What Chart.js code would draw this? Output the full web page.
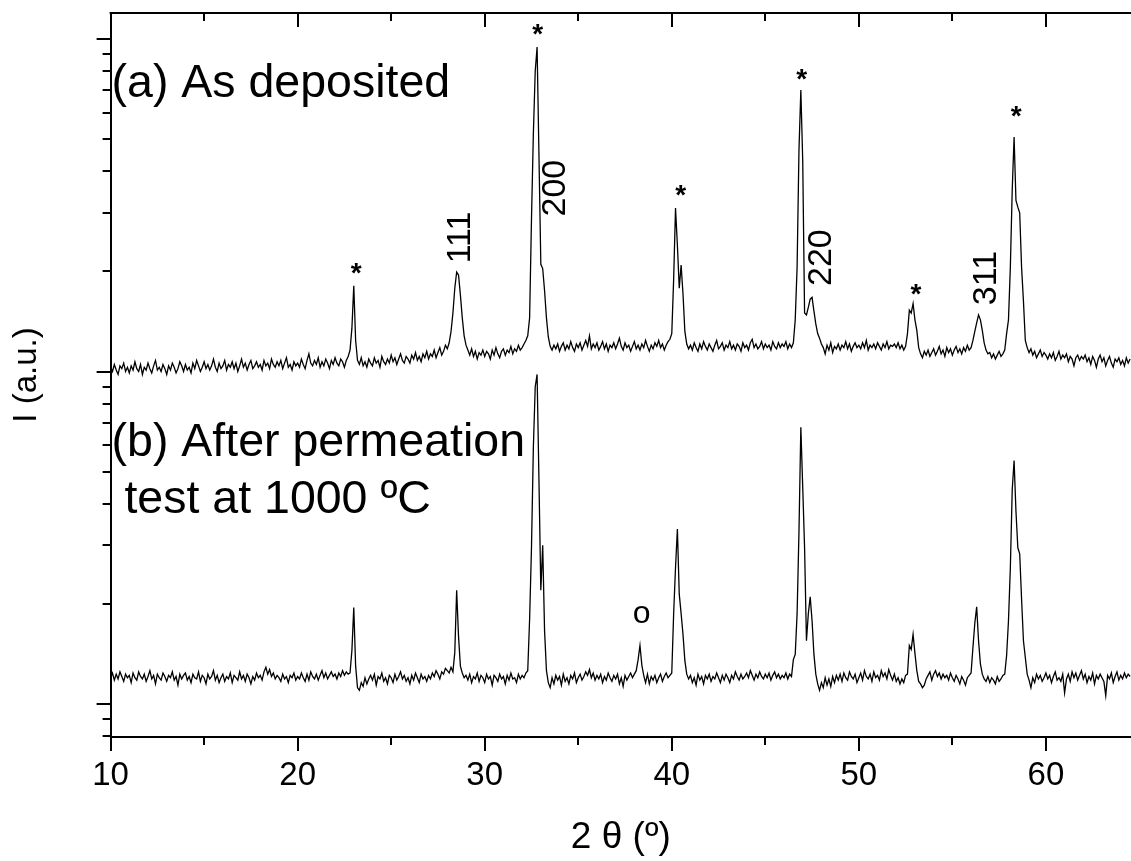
<!DOCTYPE html>
<html><head><meta charset="utf-8">
<script src="https://cdn.jsdelivr.net/npm/chart.js@4"></script>
<style>html,body{margin:0;padding:0;background:#fff}#wrap{width:1131px;height:861px;position:relative}</style>
</head><body><div id="wrap"><canvas id="c"></canvas></div>
<script>
// scan grid (2θ, degrees)
const X_START = 10.0;
const X_STEP = 0.1;
const X_MIN = 10;
const X_MAX = 64.55;
const Y_MIN = 7.96;
const Y_MAX = 1197;

// (a) As deposited — intensity, one row per degree (10.0 ... 64.5)
const asDeposited = [
103,100,105,101,98,104,102,106,100,103,
99,104,101,107,102,100,105,98,103,101,
106,102,99,104,108,101,103,100,105,102,
98,104,101,106,103,99,102,107,104,100,
105,101,103,99,106,102,108,104,100,103,
107,102,105,101,104,109,103,100,106,102,
104,108,101,105,103,107,102,106,100,104,
109,103,106,101,105,108,102,104,107,103,
105,101,108,104,106,102,109,105,103,107,
104,108,102,106,110,103,105,101,107,104,
106,103,109,105,102,108,113,106,104,108,
105,110,103,107,104,109,106,102,108,105,
110,106,104,109,107,103,108,111,116,135,
181,124,108,105,110,104,107,103,109,106,
104,110,106,108,103,111,107,105,109,106,
112,107,110,105,109,113,108,106,111,109,
106,112,109,114,108,111,107,113,110,115,
109,113,111,116,110,114,118,112,115,120,
117,122,132,150,178,199,195,170,145,128,
120,116,112,117,111,115,109,114,112,116,
111,115,113,109,116,112,118,113,110,115,
117,112,116,114,119,113,117,115,120,116,
118,121,124,128,145,287,518,800,946,447,
210,204,175,145,127,119,116,120,117,121,
115,119,122,116,120,117,123,118,115,121,
118,122,116,120,124,119,128,117,121,118,
122,116,119,123,117,121,115,120,118,122,
117,121,126,119,116,122,118,120,115,119,
123,117,120,116,121,118,124,119,115,120,
117,122,119,124,118,121,116,120,123,125,
130,189,310,240,178,209,171,132,121,117,
120,116,122,118,115,121,117,123,119,116,
121,118,115,120,124,117,119,122,116,120,
118,123,117,120,116,121,119,115,122,118,
120,116,122,125,118,121,117,119,123,117,
121,118,120,116,123,119,117,122,118,121,
119,123,117,121,118,122,143,206,464,702,
432,150,148,156,165,167,152,139,130,126,
121,118,113,120,116,122,114,119,117,121,
116,120,118,123,117,121,115,119,122,118,
120,117,122,118,124,116,120,118,121,117,
122,119,116,121,118,123,117,120,119,121,
118,122,117,120,116,119,130,153,150,160,
143,133,118,113,110,115,112,116,111,114,
117,112,115,119,113,116,111,118,114,117,
112,116,119,114,117,113,118,115,120,116,
118,124,132,140,148,143,133,122,116,113,
114,110,113,109,112,115,111,113,116,130,
143,206,351,507,327,312,300,206,163,124,
118,114,117,112,115,110,113,116,111,114,
112,109,113,110,114,108,111,115,109,112,
110,113,107,111,109,104,110,112,108,111,
109,112,107,110,105,111,108,103,109,112,
107,110,104,108,111,106,103,109,107,110,
105,108,104,110,106,109
];

// (b) After permeation test at 1000 ºC
const afterPermeation = [
12.0,12.4,11.8,12.3,11.9,12.5,12.1,11.7,12.3,12.0,
12.2,11.6,12.4,12.0,11.8,12.5,12.1,11.9,12.3,11.7,
12.1,12.6,11.9,12.2,11.5,12.3,12.0,11.8,12.4,12.1,
11.7,12.2,12.0,12.5,11.8,12.1,11.4,12.3,11.9,12.2,
12.4,11.8,12.1,11.6,12.3,12.0,11.9,12.5,11.7,12.2,
12.0,11.5,12.3,11.9,12.1,12.6,11.8,12.2,11.6,12.0,
12.3,11.7,12.1,11.9,12.4,11.6,12.2,12.0,11.8,12.5,
11.9,12.2,11.7,12.3,12.0,11.5,12.1,11.8,12.4,12.0,
12.2,11.8,12.5,12.9,12.3,12.7,12.1,12.4,11.9,12.2,
12.0,11.7,12.3,11.9,12.1,11.6,12.2,12.0,12.4,11.8,
12.1,11.9,12.4,12.0,11.7,12.3,11.8,12.5,12.1,11.9,
12.3,11.8,12.2,12.6,12.0,12.4,11.9,12.2,12.5,12.1,
12.3,11.9,12.4,12.1,12.6,12.2,12.5,12.3,12.4,14.5,
19.5,13.0,11.2,11.0,11.6,11.3,12.0,11.5,11.9,12.2,
11.8,12.3,11.4,12.1,11.9,12.4,11.7,12.0,11.5,12.2,
12.0,11.6,12.3,11.8,12.1,12.5,11.9,12.2,11.7,12.0,
11.5,12.2,11.8,12.4,12.0,11.6,12.3,11.9,12.1,11.7,
12.2,11.9,12.4,12.1,12.6,12.3,11.9,12.5,12.3,12.8,
12.6,12.4,12.9,12.5,14.3,22.0,16.0,13.0,12.4,12.0,
12.2,11.8,12.3,11.6,12.1,11.9,12.4,11.7,12.2,12.0,
11.6,12.3,11.9,12.1,11.4,12.2,12.0,11.7,12.3,11.9,
12.1,11.5,12.2,11.8,12.4,11.9,12.0,11.6,12.3,11.9,
12.2,12.0,12.4,12.6,18.0,29.5,59.0,90.0,98.0,47.0,
22.0,30.0,16.6,12.6,11.6,11.2,12.0,11.5,12.2,11.8,
12.1,11.4,12.3,11.7,12.0,11.5,12.2,11.9,12.4,11.6,
12.0,12.3,11.8,12.1,12.5,12.2,12.7,12.0,12.4,11.8,
12.2,11.9,12.3,11.6,12.1,11.8,12.4,12.0,11.7,12.2,
11.9,12.3,11.5,12.0,11.3,12.2,11.8,12.1,12.4,12.0,
12.3,12.6,13.6,15.0,13.1,12.2,11.6,12.3,11.5,12.1,
11.8,12.2,11.6,12.0,12.3,11.7,12.1,12.4,12.0,12.2,
12.4,18.7,25.7,33.6,21.4,18.7,16.2,13.5,12.3,11.9,
12.2,11.6,12.0,11.4,12.3,11.8,12.1,11.5,12.2,11.9,
12.3,11.7,12.1,11.9,12.4,12.0,11.6,12.2,11.8,12.3,
12.0,11.6,12.2,11.9,12.5,12.1,11.8,12.3,11.9,12.1,
12.4,12.0,12.6,12.2,11.8,12.3,12.0,12.5,12.1,11.9,
12.3,12.0,12.4,11.8,12.2,12.5,12.0,12.3,11.9,12.2,
12.0,12.4,11.9,12.3,12.1,13.6,14.1,18.7,33.0,68.0,
45.0,29.5,15.5,18.7,21.0,17.8,14.1,12.3,11.5,11.0,
11.6,11.2,12.0,11.4,11.9,11.3,12.1,11.6,12.2,11.8,
12.3,11.7,12.4,12.0,11.8,12.5,12.1,11.9,12.3,11.6,
12.0,12.4,11.8,12.6,12.1,11.9,12.3,11.7,12.5,12.0,
12.2,11.8,12.6,12.1,12.4,11.9,12.7,12.2,11.8,12.3,
11.7,12.0,11.5,11.9,11.6,12.2,12.3,15.0,14.6,16.2,
14.2,12.6,11.7,11.5,11.2,11.4,11.9,12.2,12.5,11.8,
12.3,12.6,12.1,12.4,11.9,12.3,12.0,12.2,11.8,12.4,
12.0,11.7,12.2,11.9,11.5,12.1,11.8,11.4,12.0,12.2,
12.4,14.8,17.5,19.6,15.5,13.2,12.3,11.9,11.7,12.1,
11.6,12.0,11.8,11.5,12.1,11.7,11.9,12.2,12.3,14.0,
17.8,25.7,44.0,54.0,38.0,29.5,28.3,20.7,15.5,13.8,
12.3,11.8,11.2,12.0,11.6,12.3,11.9,12.2,11.7,12.0,
12.4,11.9,12.2,11.6,12.1,12.5,11.8,12.0,11.7,12.3,
10.8,11.9,12.3,11.7,12.5,12.0,12.4,11.8,12.2,12.6,
11.9,12.3,11.6,12.1,11.8,12.4,11.5,12.2,11.9,12.3,
12.0,11.7,10.6,12.2,11.9,12.4,11.6,12.1,12.5,11.8,
12.2,11.9,12.4,12.0,12.3,12.1
];

// ticks
const xMajorTicks = [10, 20, 30, 40, 50, 60];
const xMinorTicks = [15, 25, 35, 45, 55];
const yMajorTicks = [10, 100, 1000];
const yMinorTicks = [8, 9, 20, 30, 40, 50, 60, 70, 80, 90, 200, 300, 400, 500, 600, 700, 800, 900];

// annotations (data coordinates: 2θ, intensity)
const starMarks = [[23.13, 208], [32.83, 1087], [40.48, 356], [46.95, 796], [53.05, 180], [58.41, 615]];
const hklLabels = [['111', 28.59, 253], ['200', 33.71, 356], ['220', 47.89, 220], ['311', 56.75, 191]];
const phaseMarks = [['o', 38.39, 18.4]];
const panelLabels = [['(a) As deposited', 10.05, 668], ['(b) After permeation', 10.05, 55.8], [' test at 1000 ºC', 10.05, 37.6]];

const FONT = '"Liberation Sans", Arial, Helvetica, sans-serif';
const INK = '#000';

const toPoints = arr => arr.map((v, i) => ({x: +(X_START + i * X_STEP).toFixed(2), y: v}));

const decor = {
  id: 'decor',
  afterDraw(chart) {
    const {ctx, chartArea: a, scales: {x, y}} = chart;
    ctx.save();
    ctx.strokeStyle = INK;
    ctx.lineWidth = 2;
    ctx.beginPath();
    ctx.moveTo(a.left - 1, a.top);
    ctx.lineTo(a.right, a.top);
    ctx.stroke();
    const xTicks = (vals, len) => vals.forEach(v => {
      const p = Math.round(x.getPixelForValue(v));
      ctx.beginPath();
      ctx.moveTo(p, a.bottom); ctx.lineTo(p, a.bottom + len);
      ctx.moveTo(p, a.top); ctx.lineTo(p, a.top + len);
      ctx.stroke();
    });
    xTicks(xMajorTicks, 14);
    xTicks(xMinorTicks, 8);
    const yTicks = (vals, len) => vals.forEach(v => {
      if (v < Y_MIN || v > Y_MAX) return;
      const p = Math.round(y.getPixelForValue(v));
      ctx.beginPath();
      ctx.moveTo(a.left, p); ctx.lineTo(a.left - len, p);
      ctx.stroke();
    });
    yTicks(yMajorTicks, 14);
    yTicks(yMinorTicks, 8);

    ctx.fillStyle = INK;
    // asterisks
    ctx.font = 'bold 28px ' + FONT;
    ctx.textAlign = 'center';
    ctx.textBaseline = 'alphabetic';
    starMarks.forEach(([sx, sy]) => {
      ctx.fillText('*', x.getPixelForValue(sx), y.getPixelForValue(sy) + 16);
    });
    // Miller indices, rotated
    ctx.font = '34px ' + FONT;
    ctx.textBaseline = 'middle';
    hklLabels.forEach(([t, hx, hy]) => {
      ctx.save();
      ctx.translate(x.getPixelForValue(hx), y.getPixelForValue(hy));
      ctx.rotate(-Math.PI / 2);
      ctx.fillText(t, 0, 2);
      ctx.restore();
    });
    ctx.font = '32px ' + FONT;
    phaseMarks.forEach(([t, px, py]) => {
      ctx.fillText(t, x.getPixelForValue(px), y.getPixelForValue(py) - 2);
    });
    // panel labels
    ctx.font = '46.5px ' + FONT;
    ctx.textAlign = 'left';
    ctx.textBaseline = 'alphabetic';
    panelLabels.forEach(([t, px, py]) => {
      ctx.fillText(t, x.getPixelForValue(px), y.getPixelForValue(py));
    });
    ctx.restore();
  }
};

Chart.defaults.font.family = FONT;
Chart.defaults.color = INK;

new Chart(document.getElementById('c'), {
  type: 'line',
  data: {
    datasets: [
      {label: '(a) As deposited', data: toPoints(asDeposited), borderColor: INK, borderWidth: 1.3, pointRadius: 0, tension: 0, fill: false},
      {label: '(b) After permeation test at 1000 ºC', data: toPoints(afterPermeation), borderColor: INK, borderWidth: 1.3, pointRadius: 0, tension: 0, fill: false}
    ]
  },
  options: {
    responsive: true,
    maintainAspectRatio: false,
    animation: false,
    devicePixelRatio: 1,
    layout: {padding: {top: 13, right: 0, left: 0, bottom: 0}},
    plugins: {legend: {display: false}, tooltip: {enabled: false}},
    events: [],
    scales: {
      x: {
        type: 'linear', min: X_MIN, max: X_MAX,
        grid: {display: false, drawTicks: false},
        border: {display: true, color: INK, width: 2},
        ticks: {stepSize: 10, includeBounds: false, color: INK, font: {size: 33}, padding: 19, maxRotation: 0},
        title: {display: true, text: '2 θ (º)', color: INK, font: {size: 37}, padding: {top: 1, bottom: 1}}
      },
      y: {
        type: 'logarithmic', min: Y_MIN, max: Y_MAX,
        grid: {display: false, drawTicks: false},
        border: {display: true, color: INK, width: 2},
        ticks: {display: false},
        title: {display: true, text: 'I (a.u.)', color: INK, font: {size: 33}, padding: {top: 7, bottom: 64}}
      }
    }
  },
  plugins: [decor]
});
</script>
</body></html>
